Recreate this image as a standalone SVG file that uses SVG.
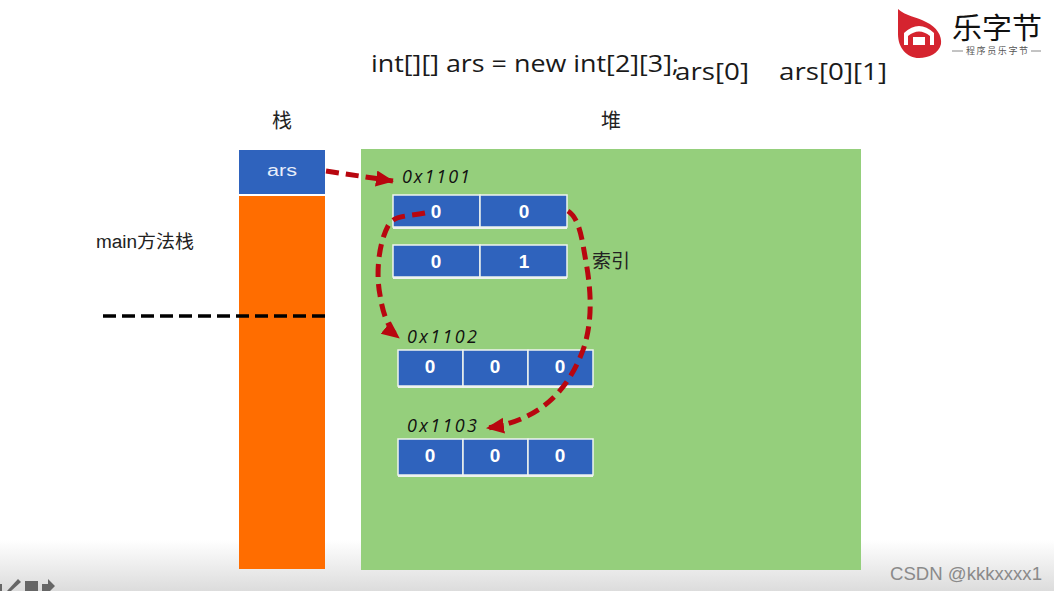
<svg xmlns="http://www.w3.org/2000/svg" width="1054" height="591" viewBox="0 0 1054 591">
<style>
text{font-family:"Liberation Sans","Noto Sans CJK SC",sans-serif}
.cell{fill:#2f63bd;stroke:#eef3ee;stroke-width:1.5}
.v{fill:#fff;font-size:19px;font-weight:700;text-anchor:middle}
.addr{font-size:18px;font-style:italic;fill:#111;font-family:"Open Sans",sans-serif}
.dash{fill:none;stroke:#b8060f;stroke-width:5;stroke-dasharray:13 7}
.top{font-size:24px;fill:#1a1a1a;font-family:"Open Sans","Liberation Sans",sans-serif}
.cn{font-size:20px;fill:#222;text-anchor:middle}
</style>
<defs>
<marker id="ah" markerUnits="userSpaceOnUse" markerWidth="20" markerHeight="18" refX="17" refY="8" orient="auto"><path d="M0 0L18 8L0 16Z" fill="#b8060f"/></marker>
<linearGradient id="fade" x1="0" y1="0" x2="0" y2="1"><stop offset="0" stop-color="#fff"/><stop offset="1" stop-color="#dcdcdc"/></linearGradient>
</defs>
<rect width="1054" height="591" fill="#fff"/>
<rect x="0" y="540" width="1054" height="51" fill="url(#fade)" id="bottom-fade"/>
<g id="title">
<text class="top" x="371" y="72" textLength="308" lengthAdjust="spacingAndGlyphs">int[][] ars = new int[2][3];</text>
<text class="top" x="675" y="80" textLength="74" lengthAdjust="spacingAndGlyphs">ars[0]</text>
<text class="top" x="779" y="80" textLength="108" lengthAdjust="spacingAndGlyphs">ars[0][1]</text>
</g>
<g id="stack">
<text class="cn" x="282" y="128">栈</text>
<rect x="239" y="150" width="86" height="44" fill="#2f63bd"/>
<text x="282" y="176" fill="#e8eefa" font-size="16" font-family="Open Sans" text-anchor="middle" textLength="30" lengthAdjust="spacingAndGlyphs">ars</text>
<rect x="239" y="196" width="86" height="373" fill="#ff6d00"/>
<text x="96" y="248" font-size="18" fill="#222" textLength="98" lengthAdjust="spacingAndGlyphs">main方法栈</text>
</g>
<g id="heap">
<text class="cn" x="611" y="128">堆</text>
<rect x="361" y="149" width="500" height="421" fill="#95cf7c"/>
</g>
<g id="array-0x1101">
<text class="addr" x="402" y="183" textLength="68" lengthAdjust="spacing">0x1101</text>
<rect class="cell" x="393" y="195" width="87" height="32"/><rect class="cell" x="480" y="195" width="87" height="32"/>
<path d="M393 228H567" stroke="#eef3ee" stroke-width="2"/>
<text class="v" x="436" y="218">0</text><text class="v" x="524" y="218">0</text>
</g>
<g id="array-index">
<rect class="cell" x="393" y="245" width="87" height="32"/><rect class="cell" x="480" y="245" width="87" height="32"/>
<path d="M393 278H567" stroke="#eef3ee" stroke-width="2"/>
<text class="v" x="436" y="268">0</text><text class="v" x="524" y="268">1</text>
<text x="611" y="268" font-size="19" fill="#222" text-anchor="middle">索引</text>
</g>
<g id="array-0x1102">
<text class="addr" x="407" y="343" textLength="70" lengthAdjust="spacing">0x1102</text>
<rect class="cell" x="398" y="350" width="65" height="36"/><rect class="cell" x="463" y="350" width="65" height="36"/><rect class="cell" x="528" y="350" width="65" height="36"/>
<path d="M398 387H593" stroke="#eef3ee" stroke-width="2"/>
<text class="v" x="430" y="373">0</text><text class="v" x="495" y="373">0</text><text class="v" x="560" y="373">0</text>
</g>
<g id="array-0x1103">
<text class="addr" x="407" y="432" textLength="70" lengthAdjust="spacing">0x1103</text>
<rect class="cell" x="398" y="439" width="65" height="36"/><rect class="cell" x="463" y="439" width="65" height="36"/><rect class="cell" x="528" y="439" width="65" height="36"/>
<path d="M398 476H593" stroke="#eef3ee" stroke-width="2"/>
<text class="v" x="430" y="462">0</text><text class="v" x="495" y="462">0</text><text class="v" x="560" y="462">0</text>
</g>
<g id="connectors">
<path class="dash" d="M326 171L393 181" marker-end="url(#ah)"/>
<path class="dash" d="M425 213C405 217 394 215 388 226C378 245 376 275 380 295C383 315 389 330 399 338" marker-end="url(#ah)"/>
<path class="dash" d="M568 211C580 219 582 240 586 262C592 295 592 325 583 350C570 385 545 420 487 428" marker-end="url(#ah)"/>
<path d="M103 316H326" fill="none" stroke="#000" stroke-width="3.5" stroke-dasharray="13 6"/>
</g>
<g id="logo">
<path d="M898 9C905 16 917 17 926 22C937 27 942 36 941 44C939 53 929 58 919 58C907 58 898 48 898 34Z" fill="#d5242f"/>
<path d="M904 45V33Q919 19 934 33V45H930V36Q919 27 908 36V45ZM913 45V37H925V45Z" fill="#fff"/>
<text x="952" y="39" font-size="29" fill="#111" textLength="90" lengthAdjust="spacingAndGlyphs">乐字节</text>
<path d="M952 51H963M1031 51H1041" stroke="#888"/>
<text x="997" y="54" font-size="9" fill="#555" text-anchor="middle" textLength="62" lengthAdjust="spacing">程序员乐字节</text>
</g>
<g id="toolbar" fill="#666">
<path d="M7 591L18 579L21 582L11 591Z"/>
<path d="M25 581H38V591H25Z"/>
<path d="M42 584H48V579L55 586L50 591H42Z"/>
<path d="M0 584H2V591H0Z"/>
</g>
<text id="watermark" x="890" y="580" font-size="18.5" fill="#8a8a8a" textLength="152" lengthAdjust="spacingAndGlyphs">CSDN @kkkxxxx1</text>
</svg>
